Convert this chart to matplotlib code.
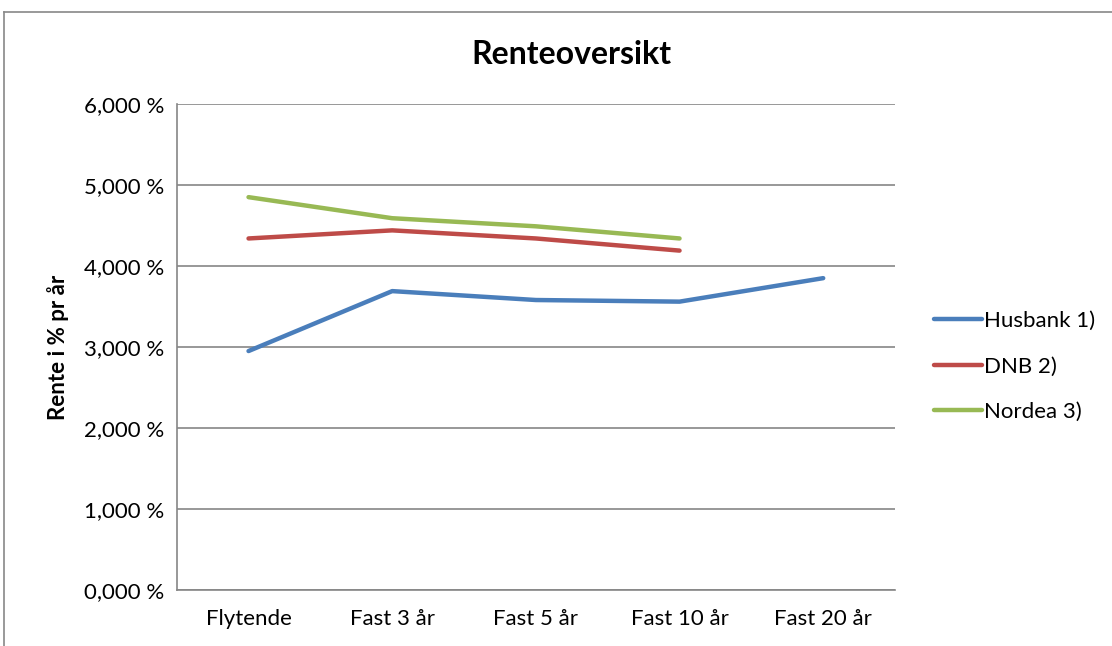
import matplotlib.pyplot as plt
from matplotlib.lines import Line2D

plt.rcParams['font.family'] = ['Lato', 'DejaVu Sans']

kategorier = ["Flytende", "Fast 3 år", "Fast 5 år", "Fast 10 år", "Fast 20 år"]
husbank = [2.95, 3.69, 3.58, 3.56, 3.85]
dnb = [4.34, 4.44, 4.34, 4.19]
nordea = [4.85, 4.59, 4.49, 4.34]
yticks = [0, 1, 2, 3, 4, 5, 6]

fig = plt.figure(figsize=(11.12, 6.46), dpi=100)
ax = fig.add_axes([0.1589, 0.0867, 0.6460, 0.7523])

x = range(len(kategorier))
ax.plot(x, husbank, color='#4A7EBB', lw=3.2, solid_capstyle='round', label='Husbank 1)')
ax.plot(x[:len(dnb)], dnb, color='#BE4B48', lw=3.2, solid_capstyle='round', label='DNB 2)')
ax.plot(x[:len(nordea)], nordea, color='#98B954', lw=3.2, solid_capstyle='round', label='Nordea 3)')

ax.set_xlim(-0.5, len(kategorier) - 0.5)
ax.set_ylim(0, 6)
ax.set_xticks(list(x))
ax.set_xticklabels(kategorier, fontsize=16)
ax.set_yticks(yticks)
ax.set_yticklabels([f"{v},000 %" for v in yticks], fontsize=16)
ax.tick_params(length=0, pad=9)
ax.tick_params(axis='x', pad=14)
ax.grid(axis='y', color='#868686', lw=1.2)
ax.set_axisbelow(True)
for s in ['top', 'right']:
    ax.spines[s].set_visible(False)
for s in ['left', 'bottom']:
    ax.spines[s].set_color('#868686')
    ax.spines[s].set_linewidth(1.2)

ax.set_ylabel("Rente i % pr år", fontsize=16, fontweight='bold')
ax.yaxis.set_label_coords(-0.15, 0.5)
fig.text(0.5135, 0.915, "Renteoversikt", ha='center', va='center',
         fontsize=23, fontweight='bold')

ax.legend(loc='center left', bbox_to_anchor=(1.026, 0.46), frameon=False,
          fontsize=16, handlelength=2.16, handletextpad=0.1, labelspacing=1.15)

# chart area border (top and left visible)
fig.add_artist(Line2D([0.004, 1.0], [0.981, 0.981], color='#888888', lw=1.2))
fig.add_artist(Line2D([0.004, 0.004], [0.0, 0.981], color='#888888', lw=1.2))

fig.savefig("out.png", dpi=100)
